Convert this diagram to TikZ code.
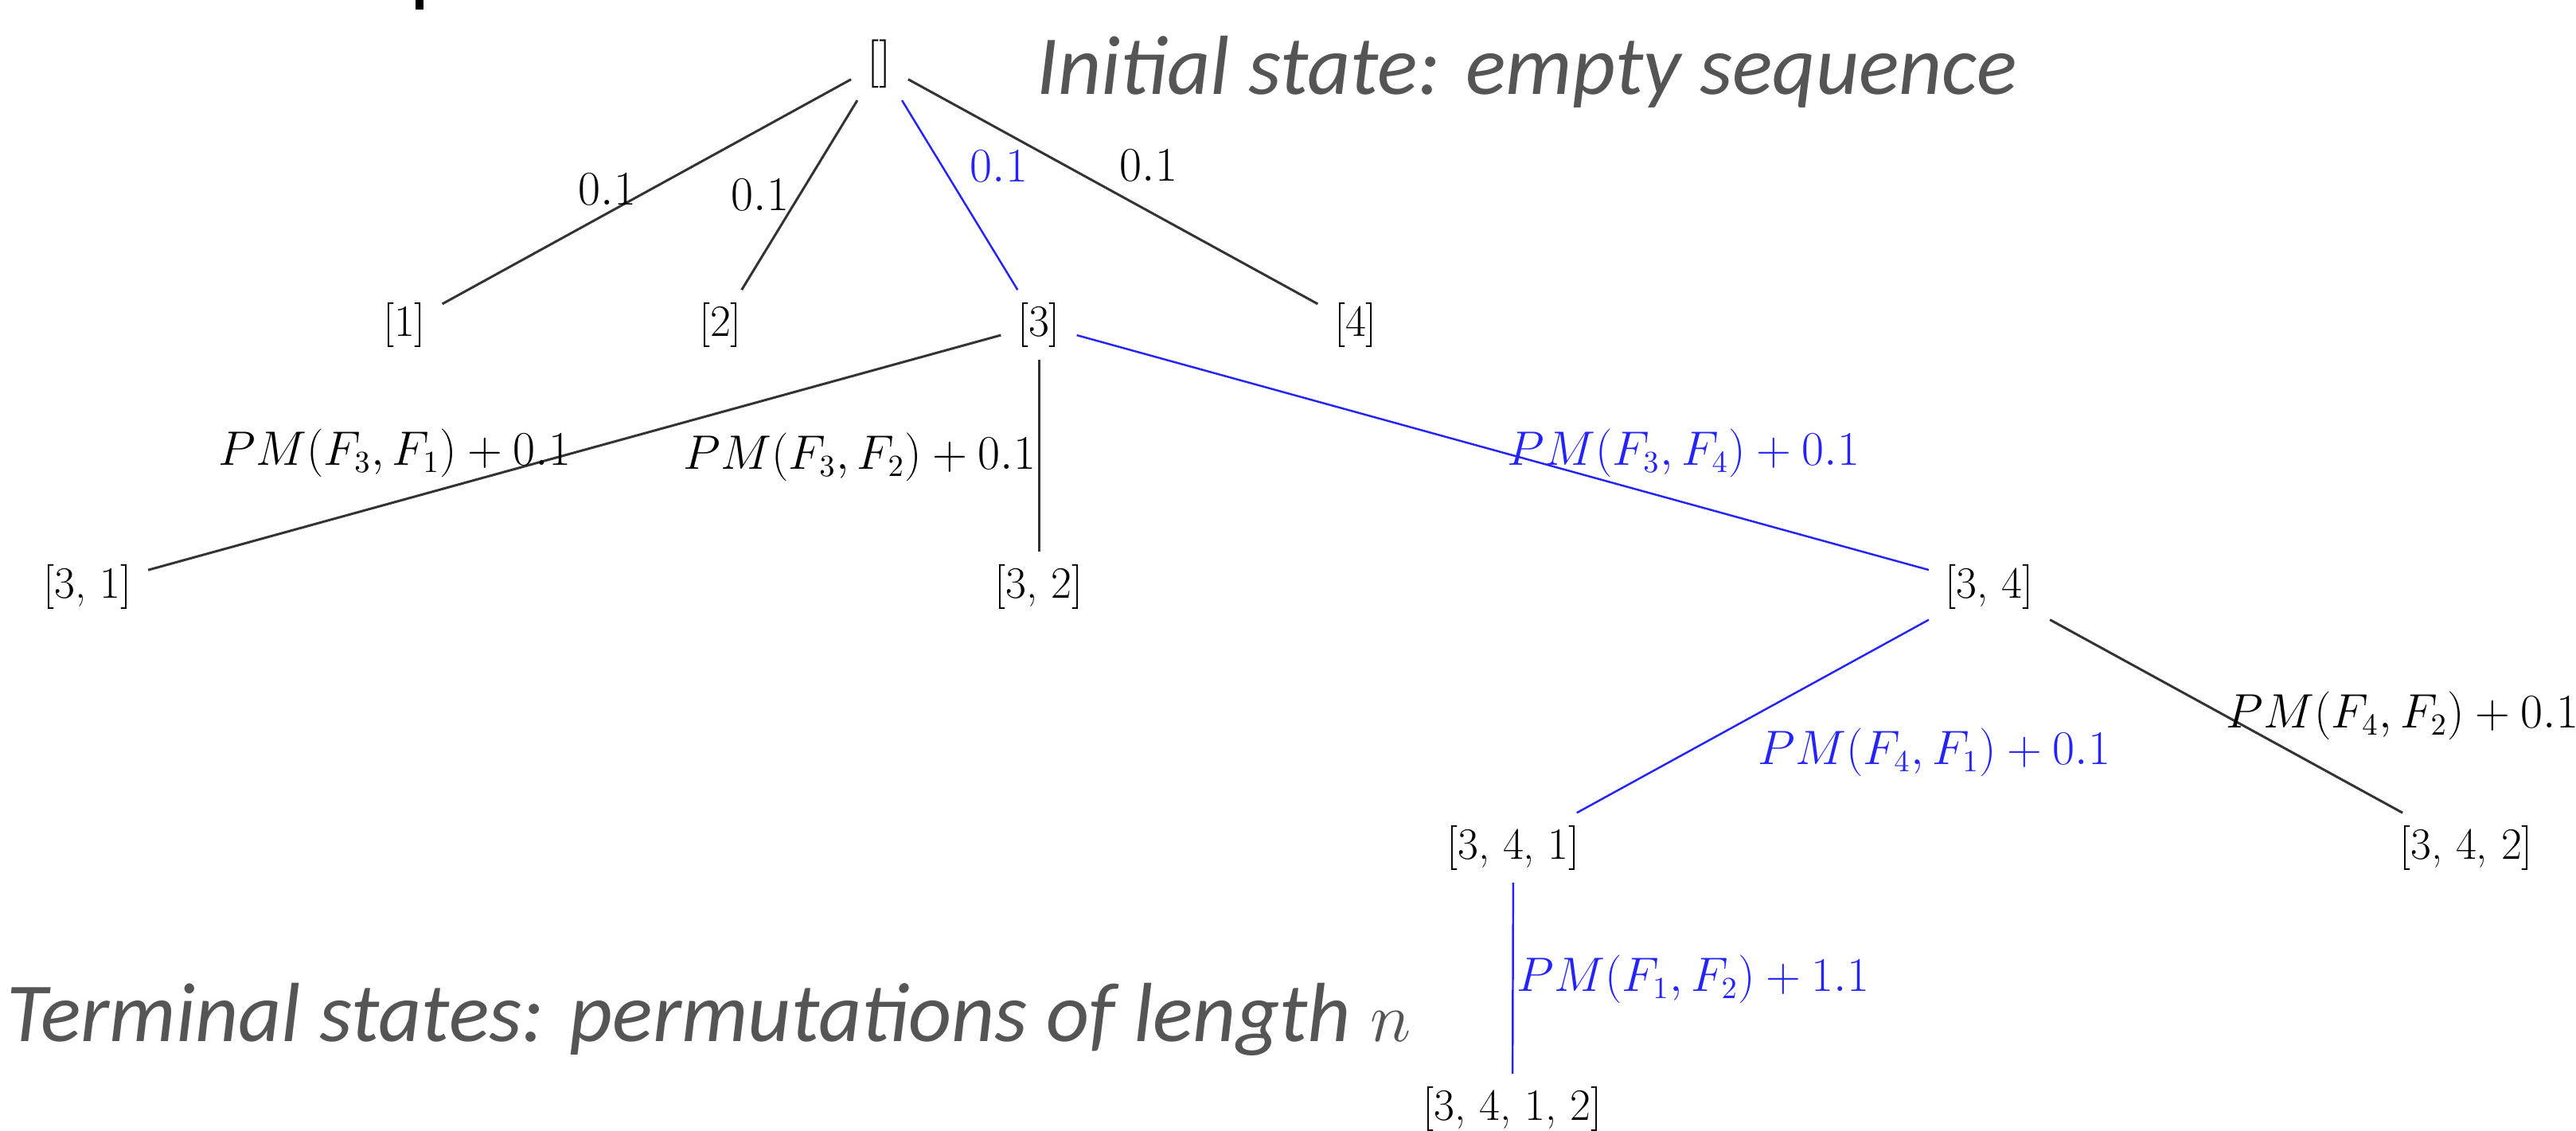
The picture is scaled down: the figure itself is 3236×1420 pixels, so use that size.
\documentclass[tikz,border=0pt]{standalone}
\usepackage{fontspec}
\newfontfamily\calib{Carlito}
\definecolor{myblue}{RGB}{35,35,250}
\definecolor{notegray}{RGB}{85,85,85}
\begin{document}
\begin{tikzpicture}[x=0.01cm,y=-0.01cm,
  st/.style={font=\fontsize{16}{19}\selectfont, inner xsep=0.2cm, inner ysep=0.15cm},
  lbl/.style={font=\fontsize{16}{19}\selectfont, inner sep=0pt},
  blbl/.style={lbl, text=myblue},
  edgeline/.style={draw=black!80, line width=0.85pt},
  bedge/.style={draw=myblue, line width=0.7pt},
  note/.style={font=\calib\itshape\fontsize{30}{36}\selectfont, text=notegray, inner sep=0pt, anchor=base west}]
\useasboundingbox (0,0) rectangle (3236,1420);
% fragment of cut-off title
\fill[black] (522,0) rectangle (532,12);
% nodes
\node[st] (r)  at (1105,80)  {$[]$};
\node[st] (a1) at (508,408)  {[1]};
\node[st] (a2) at (905,408)  {[2]};
\node[st] (a3) at (1305,408) {[3]};
\node[st] (a4) at (1703,408) {[4]};
\node[st] (b1) at (110,737)  {[3, 1]};
\node[st] (b2) at (1305,737) {[3, 2]};
\node[st] (b3) at (2499,737) {[3, 4]};
\node[st] (c1) at (1901,1065) {[3, 4, 1]};
\node[st] (c2) at (3098,1065) {[3, 4, 2]};
\node[st] (d1) at (1900,1393) {[3, 4, 1, 2]};
% connectors
\draw[edgeline] (r) -- (a1);
\draw[edgeline] (r) -- (a2);
\draw[bedge] (r) -- (a3);
\draw[edgeline] (r) -- (a4);
\draw[edgeline] (a3) -- (b1);
\draw[edgeline] (a3) -- (b2);
\draw[bedge] (a3) -- (b3);
\draw[bedge] (b3) -- (c1);
\draw[edgeline] (b3) -- (c2);
\draw[bedge] (c1) -- (d1);
% labels
\node[lbl]  (l1) at (763,238)  {$0.1$};
\node[lbl]  (l2) at (955,245)  {$0.1$};
\node[blbl] (l3) at (1255,209) {$0.1$};
\node[lbl]  (l4) at (1443,208) {$0.1$};
\node[lbl]  (m1) at (496,569)  {$PM(F_3,F_1)+0.1$};
\node[lbl]  (m2) at (1080,574) {$PM(F_3,F_2)+0.1$};
\node[blbl] (m3) at (2115,569) {$PM(F_3,F_4)+0.1$};
\node[blbl] (m4) at (2430,945) {$PM(F_4,F_1)+0.1$};
\node[lbl]  (m5) at (3018,899) {$PM(F_4,F_2)+0.1$};
\node[blbl] (m6) at (2127,1230) {$PM(F_1,F_2)+1.1$};
% notes
\node[note] (n1) at (1302,118) {Initial state: empty sequence};
\node[note] (n2) at (8,1308) {Terminal states: permutations of length \textup{\fontsize{32}{38}\selectfont$n$}};
\end{tikzpicture}
\end{document}
